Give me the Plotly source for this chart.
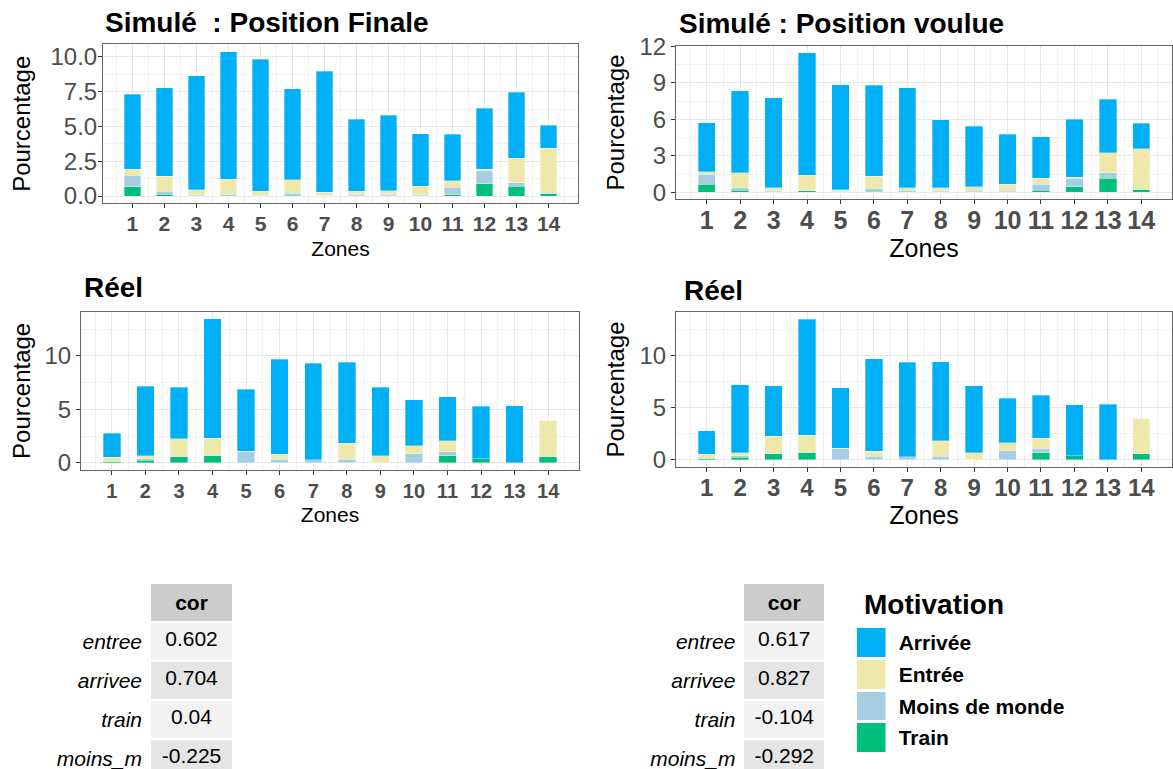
import plotly.graph_objects as go

W, H = 1173, 769
FONT = "Liberation Sans, Arial, sans-serif"

# ---------------- data ----------------
zones = list(range(1, 15))
zone_labels = [str(z) for z in zones]

stack_order = ["Train", "Moins de monde", "Entrée", "Arrivée"]
legend_order = ["Arrivée", "Entrée", "Moins de monde", "Train"]
colors = {"Arrivée": "#00B0F6", "Entrée": "#EEE8AA",
          "Moins de monde": "#A6CEE3", "Train": "#00BF7D"}

# Simulé : Position Finale
fin_train   = [0.67, 0.12, 0.03, 0.07, 0.02, 0.07, 0.02, 0.03, 0.03, 0.03, 0.10, 0.89, 0.72, 0.22]
fin_moins   = [0.81, 0.21, 0.07, 0.07, 0.05, 0.15, 0.03, 0.09, 0.09, 0.07, 0.52, 0.93, 0.24, 0.00]
fin_entree  = [0.46, 1.08, 0.35, 1.06, 0.29, 0.95, 0.21, 0.21, 0.26, 0.62, 0.48, 0.12, 1.74, 3.22]
fin_arrivee = [5.36, 6.37, 8.19, 9.18, 9.47, 6.53, 8.69, 5.20, 5.43, 3.75, 3.33, 4.35, 4.74, 1.66]

# Simulé : Position voulue
vou_train   = [0.68, 0.16, 0.05, 0.11, 0.03, 0.08, 0.08, 0.03, 0.03, 0.03, 0.16, 0.44, 1.15, 0.25]
vou_moins   = [0.82, 0.22, 0.09, 0.08, 0.05, 0.22, 0.08, 0.11, 0.13, 0.13, 0.50, 0.71, 0.46, 0.00]
vou_entree  = [0.19, 1.21, 0.22, 1.23, 0.14, 1.04, 0.20, 0.22, 0.28, 0.52, 0.49, 0.08, 1.64, 3.33]
vou_arrivee = [4.02, 6.75, 7.40, 10.06, 8.61, 7.46, 8.25, 5.60, 5.00, 4.10, 3.42, 4.76, 4.40, 2.08]

# Réel
reel_train   = [0.15, 0.22, 0.59, 0.71, 0.00, 0.00, 0.00, 0.00, 0.00, 0.00, 0.65, 0.40, 0.00, 0.59]
reel_moins   = [0.00, 0.16, 0.00, 0.00, 1.08, 0.34, 0.28, 0.34, 0.00, 0.87, 0.40, 0.00, 0.00, 0.00]
reel_entree  = [0.38, 0.30, 1.67, 1.61, 0.00, 0.46, 0.00, 1.49, 0.65, 0.74, 1.02, 0.00, 0.00, 3.37]
reel_arrivee = [2.23, 6.50, 4.83, 11.14, 5.82, 8.89, 9.04, 7.58, 6.44, 4.30, 4.12, 4.89, 5.33, 0.00]

# correlation tables
cor_rows = ["entree", "arrivee", "train", "moins_m"]
cor_left = ["0.602", "0.704", "0.04", "-0.225"]
cor_right = ["0.617", "0.827", "-0.104", "-0.292"]

titles = ["Simulé  : Position Finale", "Simulé : Position voulue", "Réel", "Réel"]

# ---------------- figure ----------------
def px_x(p):
    return p / W

def px_y(p):
    return 1 - p / H

panels = [
    dict(data={"Train": fin_train, "Moins de monde": fin_moins, "Entrée": fin_entree, "Arrivée": fin_arrivee},
         ax="x", ay="y", dom_x=(103, 578), dom_y=(44.3, 203.3), ticks_y=[0, 2.5, 5, 7.5, 10], fmt=".1f",
         minor=1.25, xfs=21, zfs=21, title_pos=(103, 22.5),
         ystand=13, xstand=7, xlso=-3, ylso=-4),
    dict(data={"Train": vou_train, "Moins de monde": vou_moins, "Entrée": vou_entree, "Arrivée": vou_arrivee},
         ax="x2", ay="y2", dom_x=(676, 1172), dom_y=(45.7, 199.3), ticks_y=[0, 3, 6, 9, 12], fmt="d",
         minor=1.5, xfs=25, zfs=25, title_pos=(677, 23.7),
         ystand=8, xstand=1, xlso=-5, ylso=0),
    dict(data={"Train": reel_train, "Moins de monde": reel_moins, "Entrée": reel_entree, "Arrivée": reel_arrivee},
         ax="x3", ay="y3", dom_x=(81, 579), dom_y=(311.7, 470), ticks_y=[0, 5, 10], fmt="d",
         minor=2.5, xfs=20, zfs=21, title_pos=(82, 287),
         ystand=7, xstand=6, xlso=-1, ylso=0),
    dict(data={"Train": reel_train, "Moins de monde": reel_moins, "Entrée": reel_entree, "Arrivée": reel_arrivee},
         ax="x4", ay="y4", dom_x=(676, 1172), dom_y=(312.3, 466.7), ticks_y=[0, 5, 10], fmt="d",
         minor=2.5, xfs=24, zfs=25, title_pos=(682, 290.5),
         ystand=8, xstand=1, xlso=-5, ylso=0),
]

fig = go.Figure()
layout = dict(
    width=W, height=H, margin=dict(l=0, r=0, t=0, b=0, autoexpand=False),
    paper_bgcolor="white", plot_bgcolor="white",
    barmode="stack", showlegend=False,
    font=dict(family=FONT, color="black"),
    annotations=[],
)

for i, p in enumerate(panels):
    for m in stack_order:
        fig.add_trace(go.Bar(
            x=zones, y=p["data"][m], name=m, width=0.52,
            marker=dict(color=colors[m], line=dict(color="rgba(255,255,255,0.55)", width=0.6)),
            xaxis=p["ax"], yaxis=p["ay"], showlegend=False,
        ))
    totals = [sum(v) for v in zip(*p["data"].values())]
    ymax = max(totals)
    xkey = "xaxis" if i == 0 else f"xaxis{i+1}"
    ykey = "yaxis" if i == 0 else f"yaxis{i+1}"
    common = dict(showline=True, mirror=True, linecolor="#666666", linewidth=1,
                  ticks="outside", ticklen=4, tickcolor="#333333", tickwidth=1,
                  showgrid=True, gridcolor="#E6E6E6", gridwidth=1.2, zeroline=False,
                  automargin=False)
    layout[xkey] = dict(
        domain=[px_x(p["dom_x"][0]), px_x(p["dom_x"][1])],
        anchor=p["ay"], range=[0.08, 14.92],
        tickmode="array", tickvals=zones, ticktext=zone_labels,
        ticklabelstandoff=p["xlso"],
        tickfont=dict(family=FONT, size=p["xfs"], color="#4D4D4D", weight="bold"),
        minor=dict(dtick=0.5, tick0=0.5, showgrid=True, gridcolor="#F1F1F1", gridwidth=0.8),
        title=dict(text="Zones", font=dict(family=FONT, size=p["zfs"], color="black"), standoff=p["xstand"]),
        **common,
    )
    layout[ykey] = dict(
        domain=[px_y(p["dom_y"][1]), px_y(p["dom_y"][0])],
        anchor=p["ax"], range=[-0.05 * ymax, 1.05 * ymax],
        tickmode="array", tickvals=p["ticks_y"],
        tickformat=p["fmt"], ticklabelstandoff=p["ylso"],
        tickfont=dict(family=FONT, size=24, color="#4D4D4D"),
        minor=dict(dtick=p["minor"], tick0=0, showgrid=True, gridcolor="#F1F1F1", gridwidth=0.8),
        title=dict(text="Pourcentage", font=dict(family=FONT, size=24, color="black"), standoff=p["ystand"]),
        **common,
    )
    layout["annotations"].append(dict(
        text=f"<b>{titles[i]}</b>", x=px_x(p["title_pos"][0]), y=px_y(p["title_pos"][1]),
        xref="paper", yref="paper", xanchor="left", yanchor="middle", showarrow=False,
        font=dict(family=FONT, size=28, color="black"),
    ))

# ---------------- correlation tables ----------------
def add_table(values, x0, x1, wlab, wval):
    fig.add_trace(go.Table(
        domain=dict(x=[px_x(x0), px_x(x1)], y=[0, px_y(583)]),
        columnwidth=[wlab, wval],
        header=dict(values=["", "<b>cor</b>"],
                    fill=dict(color=["white", "#CCCCCC"]),
                    line=dict(color="white", width=2),
                    align=["right", "center"], height=36,
                    font=dict(family=FONT, size=21, color="black")),
        cells=dict(values=[[f"<i>{r}</i>" for r in cor_rows], values],
                   fill=dict(color=[["white"] * 4, ["#F2F2F2", "#E5E5E5", "#F2F2F2", "#E5E5E5"]]),
                   line=dict(color="white", width=2),
                   align=["right", "center"], height=37.5,
                   font=dict(family=FONT, size=21, color="black")),
    ))

add_table(cor_left, 45, 233, 105, 83)
add_table(cor_right, 636, 826, 108, 82)

# ---------------- legend keys ----------------
n = len(legend_order)
cscale = []
for k, m in enumerate(legend_order):
    cscale.append([k / n, colors[m]])
    cscale.append([(k + 1) / n, colors[m]])
fig.add_trace(go.Heatmap(
    z=[[k] for k in range(n)], x=[0], y=legend_order,
    colorscale=cscale, zmin=0, zmax=n - 1, showscale=False, ygap=3,
    hoverinfo="skip", xaxis="x5", yaxis="y5",
))
layout["xaxis5"] = dict(domain=[px_x(856.7), px_x(885.7)], anchor="y5", visible=False,
                        fixedrange=True, automargin=False)
layout["yaxis5"] = dict(domain=[px_y(754), px_y(627)], anchor="x5", side="right",
                        autorange="reversed", showgrid=False, showline=False, zeroline=False,
                        ticks="", ticklabelstandoff=12, automargin=False,
                        tickfont=dict(family=FONT, size=21, color="black", weight="bold"))
layout["annotations"].append(dict(
    text="<b>Motivation</b>", x=px_x(862), y=px_y(604), xref="paper", yref="paper",
    xanchor="left", yanchor="middle", showarrow=False,
    font=dict(family=FONT, size=28, color="black"),
))

fig.update_layout(**layout)
fig.write_html("out.html", config={"displayModeBar": False},
               post_script="document.body.style.margin='0px';document.body.style.overflow='hidden';")
